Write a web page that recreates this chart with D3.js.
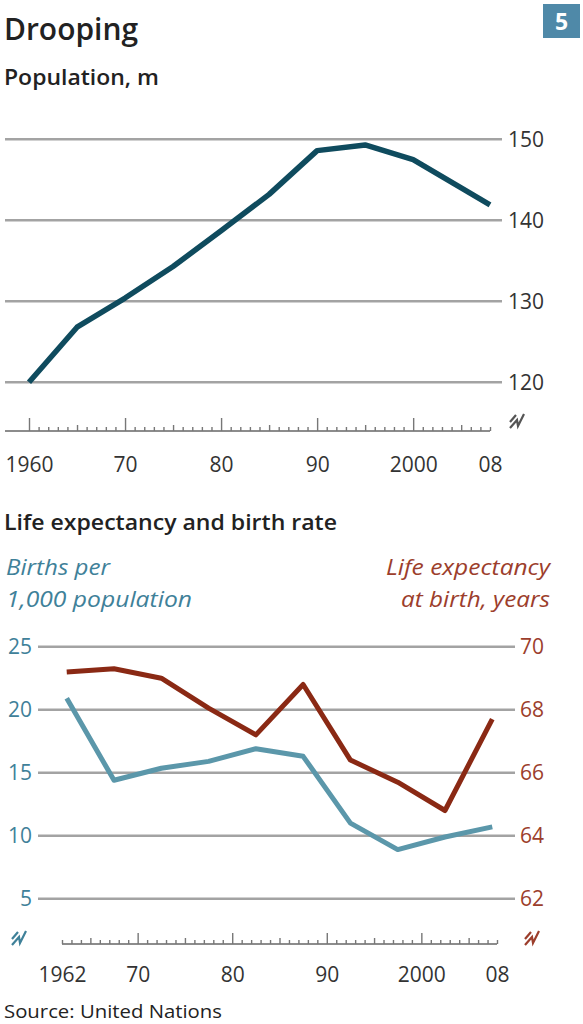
<!DOCTYPE html>
<html><head><meta charset="utf-8">
<script src="https://cdn.jsdelivr.net/npm/d3@7"></script>
<style>
body{margin:0;background:#fff}
svg{display:block}
text{font-family:"Open Sans",Lato,sans-serif}
</style>
</head><body><svg id="c" width="583" height="1024"></svg>
<script>
// ---- Data ----
const popYears  = [1960,1965,1970,1975,1980,1985,1990,1995,2000,2005,2008];
const popValues = [120,126.8,130.4,134.3,138.7,143.2,148.6,149.3,147.5,144.0,141.9];
const popYTicks = [120,130,140,150];
const popXTicks = [1960,1970,1980,1990,2000,2008];
const popXLabels= ["1960","70","80","90","2000","08"];

const rateYears = [1962.5,1967.5,1972.5,1977.5,1982.5,1987.5,1992.5,1997.5,2002.5,2007.5];
const births    = [20.9,14.4,15.35,15.9,16.9,16.3,11.0,8.9,9.9,10.7];
const lifeExp   = [69.2,69.3,69.0,68.05,67.2,68.8,66.4,65.7,64.8,67.7];
const birthTicks= [5,10,15,20,25];
const lifeTicks = [62,64,66,68,70];
const rateXTicks= [1962,1970,1980,1990,2000,2008];
const rateXLabels=["1962","70","80","90","2000","08"];

// ---- Styles ----
const C = {
  pop:"#0f4b5e", births:"#5b97aa", life:"#8a2914",
  grid:"#a3a3a3", axis:"#8c8c8c", text:"#222", num:"#333",
  blueTxt:"#3f8199", redTxt:"#9c3e2c", box:"#4f89a8"
};
const FONT = "'Open Sans', Lato, sans-serif";
const svg = d3.select("#c");

// Header
svg.append("rect").attr("x",543).attr("y",4).attr("width",37).attr("height",34).attr("fill",C.box);
svg.append("text").attr("x",561.5).attr("y",30).attr("text-anchor","middle")
  .attr("font-size",23).attr("font-weight","bold").attr("fill","#fff").text("5");
svg.append("text").attr("x",4).attr("y",40).attr("font-size",30).attr("font-weight",600)
  .attr("fill",C.text).attr("textLength",134).attr("lengthAdjust","spacingAndGlyphs").text("Drooping");
svg.append("text").attr("x",4).attr("y",85).attr("font-size",21).attr("font-weight",600)
  .attr("fill",C.text).attr("textLength",155).attr("lengthAdjust","spacingAndGlyphs").text("Population, m");

// ---- Top chart ----
const x1 = d3.scaleLinear().domain([1960,2008]).range([29,490]);
const y1 = d3.scaleLinear().domain([120,150]).range([382.3,139.3]);

const g1 = svg.append("g");
g1.selectAll("line.grid").data(popYTicks).join("line")
  .attr("x1",5).attr("x2",502).attr("y1",d=>y1(d)).attr("y2",d=>y1(d))
  .attr("stroke",C.grid).attr("stroke-width",2.5);
g1.selectAll("text.yl").data(popYTicks).join("text")
  .attr("x",508).attr("y",d=>y1(d)).attr("dy","0.36em")
  .attr("font-size",21).attr("fill",C.num).text(d=>d);

g1.append("path").datum(popYears.map((y,i)=>[y,popValues[i]]))
  .attr("d",d3.line().x(d=>x1(d[0])).y(d=>y1(d[1])))
  .attr("fill","none").attr("stroke",C.pop).attr("stroke-width",5.5)
  .attr("stroke-linejoin","round");

function drawAxis(g, xs, yAxis, x0, x1p, majorLen, ticksV, labels, labelY){
  g.append("line").attr("x1",x0).attr("x2",x1p).attr("y1",yAxis).attr("y2",yAxis)
    .attr("stroke",C.axis).attr("stroke-width",2);
  const [a,b] = xs.domain();
  const yrs = d3.range(Math.ceil(a), b+1);
  const tickAxis = d3.axisTop(xs).tickValues(yrs).tickFormat("").tickSizeOuter(0);
  const ta = g.append("g").attr("transform",`translate(0,${yAxis})`).call(tickAxis);
  ta.select(".domain").remove();
  ta.selectAll(".tick line").attr("stroke","#777").attr("stroke-width",1.4)
    .attr("y2",d=> d%10===0 ? -majorLen : (d%5===0 ? -6 : -4));
  const la = d3.axisBottom(xs).tickValues(ticksV).tickSize(0)
    .tickFormat((d,i)=>labels[i]);
  const lg = g.append("g").attr("transform",`translate(0,${labelY})`).call(la);
  lg.select(".domain").remove();
  lg.selectAll("text").attr("font-size",21).attr("fill",C.num)
    .attr("font-family",FONT).attr("dy",0).attr("y",0);
}
function breakMark(g, cx, cy, color){
  g.append("path").attr("transform",`translate(${cx},${cy})`)
    .attr("d","M-7,7 L0,-1 L1,5 L7,-7 M-7,1 L-1,-6")
    .attr("fill","none").attr("stroke",color).attr("stroke-width",2.2);
}
drawAxis(g1, x1, 431, 5, 490, 13, popXTicks, popXLabels, 472);
breakMark(g1, 517, 421, "#555");

// ---- Bottom chart ----
svg.append("text").attr("x",4).attr("y",530).attr("font-size",21).attr("font-weight",600)
  .attr("fill",C.text).attr("textLength",333).attr("lengthAdjust","spacingAndGlyphs")
  .text("Life expectancy and birth rate");
svg.append("text").attr("x",6).attr("y",575).attr("font-size",22).attr("font-style","italic")
  .attr("fill",C.blueTxt).attr("textLength",104).attr("lengthAdjust","spacingAndGlyphs").text("Births per");
svg.append("text").attr("x",6).attr("y",607).attr("font-size",22).attr("font-style","italic")
  .attr("fill",C.blueTxt).attr("textLength",186).attr("lengthAdjust","spacingAndGlyphs").text("1,000 population");
svg.append("text").attr("x",386).attr("y",575).attr("font-size",22)
  .attr("font-style","italic").attr("fill",C.redTxt)
  .attr("textLength",164).attr("lengthAdjust","spacingAndGlyphs").text("Life expectancy");
svg.append("text").attr("x",401).attr("y",607).attr("font-size",22)
  .attr("font-style","italic").attr("fill",C.redTxt)
  .attr("textLength",149).attr("lengthAdjust","spacingAndGlyphs").text("at birth, years");

const x2 = d3.scaleLinear().domain([1962,2008]).range([62,497]);
const yB = d3.scaleLinear().domain([5,25]).range([898.7,646.7]);
const yL = d3.scaleLinear().domain([62,70]).range([898.7,646.7]);
const g2 = svg.append("g");
g2.selectAll("line.grid").data(birthTicks).join("line")
  .attr("x1",38).attr("x2",515).attr("y1",d=>yB(d)).attr("y2",d=>yB(d))
  .attr("stroke",C.grid).attr("stroke-width",2.5);
g2.selectAll("text.bl").data(birthTicks).join("text")
  .attr("x",32).attr("y",d=>yB(d)).attr("dy","0.36em").attr("text-anchor","end")
  .attr("font-size",21).attr("fill",C.blueTxt).text(d=>d);
g2.selectAll("text.ll").data(lifeTicks).join("text")
  .attr("x",520).attr("y",d=>yL(d)).attr("dy","0.36em")
  .attr("font-size",21).attr("fill",C.redTxt).text(d=>d);

g2.append("path").datum(rateYears.map((y,i)=>[y,births[i]]))
  .attr("d",d3.line().x(d=>x2(d[0])).y(d=>yB(d[1])))
  .attr("fill","none").attr("stroke",C.births).attr("stroke-width",5)
  .attr("stroke-linejoin","round");
g2.append("path").datum(rateYears.map((y,i)=>[y,lifeExp[i]]))
  .attr("d",d3.line().x(d=>x2(d[0])).y(d=>yL(d[1])))
  .attr("fill","none").attr("stroke",C.life).attr("stroke-width",5)
  .attr("stroke-linejoin","round");

drawAxis(g2, x2, 944, 62, 497, 11, rateXTicks, rateXLabels, 982);
breakMark(g2, 19, 938, C.blueTxt);
breakMark(g2, 532, 938, C.redTxt);

svg.append("text").attr("x",4).attr("y",1018).attr("font-size",19)
  .attr("fill",C.text).attr("textLength",218).attr("lengthAdjust","spacingAndGlyphs")
  .text("Source: United Nations");
</script>
</body></html>
